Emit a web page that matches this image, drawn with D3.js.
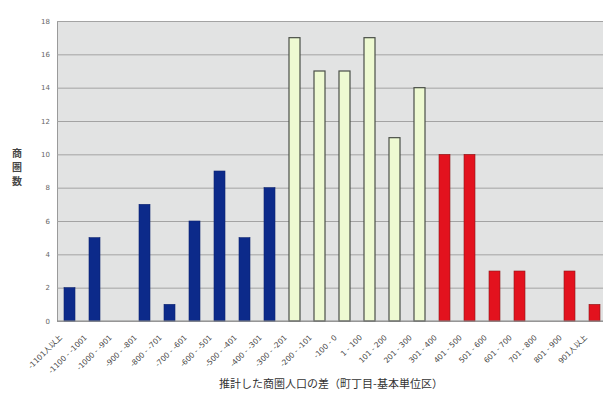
<!DOCTYPE html>
<html>
<head>
<meta charset="utf-8">
<script src="https://cdn.jsdelivr.net/npm/d3@7"></script>
<style>
  html, body { margin: 0; padding: 0; background: #fff; }
  svg { display: block; }
</style>
</head>
<body>
<svg id="chart" width="603" height="394"></svg>
<script>
// Population-difference classes (町丁目 vs 基本単位区)
const categories = [
  "-1101人以上", "-1100 - -1001", "-1000 - -901", "-900 - -801", "-800 - -701",
  "-700 - -601", "-600 - -501", "-500 - -401", "-400 - -301", "-300 - -201",
  "-200 - -101", "-100 - 0", "1 - 100", "101 - 200", "201 - 300",
  "301 - 400", "401 - 500", "501 - 600", "601 - 700", "701 - 800",
  "801 - 900", "901人以上"
];
// Number of trade areas in each class
const counts = [2, 5, 0, 7, 1, 6, 9, 5, 8, 17, 15, 15, 17, 11, 14, 10, 10, 3, 3, 0, 3, 1];
// Colour group of each class: negative, near zero, positive
const groups = ["neg","neg","neg","neg","neg","neg","neg","neg","neg",
                "mid","mid","mid","mid","mid","mid",
                "pos","pos","pos","pos","pos","pos","pos"];
const yTicks = [0, 2, 4, 6, 8, 10, 12, 14, 16, 18];
const yTitle = ["商", "圏", "数"];
const xTitle = "推計した商圏人口の差（町丁目-基本単位区）";

const fills = { neg: "#0c2a8a", mid: "#eefad2", pos: "#e3121e" };
const strokes = { neg: "#0a2270", mid: "#4a4f48", pos: "#8a1a1a" };

const svg = d3.select("#chart");
const plot = { left: 57, right: 607, top: 21, bottom: 321 };

const x = d3.scaleBand().domain(categories).range([plot.left, plot.right]).paddingInner(0.56).paddingOuter(0.28);
const y = d3.scaleLinear().domain([0, 18]).range([plot.bottom, plot.top]);

// plot area background
svg.append("rect")
  .attr("x", plot.left).attr("y", plot.top)
  .attr("width", plot.right - plot.left).attr("height", plot.bottom - plot.top)
  .attr("fill", "#e2e3e3");

// horizontal gridlines + y labels
const yAxis = d3.axisLeft(y).tickValues(yTicks).tickSize(-(plot.right - plot.left)).tickPadding(7);
const gy = svg.append("g").attr("transform", `translate(${plot.left},0)`).call(yAxis);
gy.select(".domain").attr("stroke", "#9a9a9a");
gy.selectAll(".tick line").attr("stroke", "#a3a3a3").attr("stroke-width", 1);
gy.selectAll(".tick text").attr("fill", "#666").attr("font-size", 7)
  .attr("font-family", "DejaVu Sans, sans-serif");

// bars
svg.append("g").selectAll("rect").data(counts).join("rect")
  .attr("x", (d, i) => x(categories[i]))
  .attr("y", d => y(d))
  .attr("width", x.bandwidth())
  .attr("height", d => y(0) - y(d))
  .attr("fill", (d, i) => fills[groups[i]])
  .attr("stroke", (d, i) => d > 0 ? strokes[groups[i]] : "none")
  .attr("stroke-width", (d, i) => groups[i] === "mid" ? 1.2 : 0.6);

// baseline
svg.append("line")
  .attr("x1", plot.left).attr("x2", plot.right)
  .attr("y1", plot.bottom).attr("y2", plot.bottom)
  .attr("stroke", "#8a8a8a");

// x category labels, rotated
const xAxis = d3.axisBottom(x).tickSize(0).tickPadding(0);
const gx = svg.append("g").attr("transform", `translate(0,${plot.bottom})`).call(xAxis);
gx.select(".domain").remove();
gx.selectAll(".tick text")
  .attr("font-size", 7.5)
  .attr("font-family", "DejaVu Sans, Noto Sans CJK JP, sans-serif")
  .attr("fill", "#444")
  .attr("text-anchor", "end")
  .attr("dy", null)
  .attr("y", 0)
  .attr("transform", "translate(-7,17) rotate(-45)");

// y axis title, stacked vertically
svg.append("g").selectAll("text").data(yTitle).join("text")
  .attr("x", 17).attr("y", (d, i) => 157 + i * 14)
  .attr("text-anchor", "middle")
  .attr("font-size", 10).attr("font-weight", "bold")
  .attr("font-family", "Noto Sans CJK JP, sans-serif")
  .attr("fill", "#444")
  .text(d => d);

// x axis title
svg.append("text")
  .attr("x", 331).attr("y", 388)
  .attr("text-anchor", "middle")
  .attr("font-size", 11)
  .attr("font-family", "Noto Sans CJK JP, sans-serif")
  .attr("fill", "#333")
  .text(xTitle);
</script>
</body>
</html>
